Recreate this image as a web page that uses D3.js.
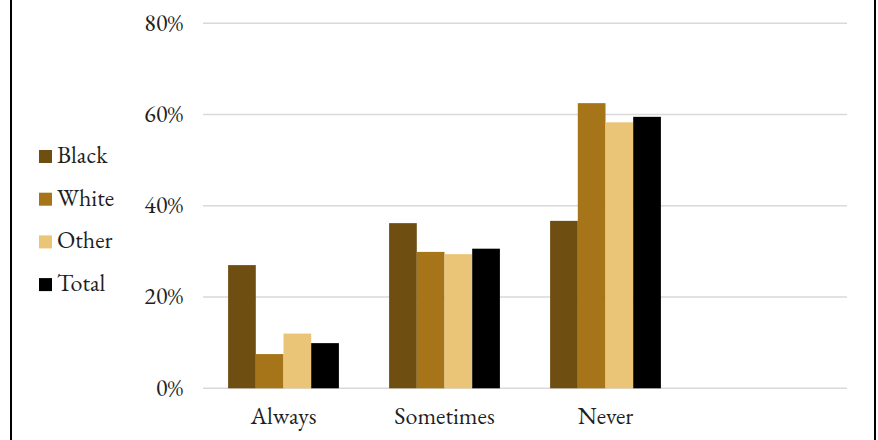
<!DOCTYPE html>
<html><head><meta charset="utf-8">
<script src="https://cdn.jsdelivr.net/npm/d3@7"></script>
<style>body{margin:0;background:#fff}svg{display:block}</style>
</head><body>
<svg id="c" width="878" height="440"></svg>
<script>
const categories = ["Always", "Sometimes", "Never", ""];
const seriesNames = ["Black", "White", "Other", "Total"];
const blackVals = [27.0, 36.2, 36.7];
const whiteVals = [7.5, 29.9, 62.5];
const otherVals = [12.0, 29.4, 58.3];
const totalVals = [9.9, 30.6, 59.5];
const yTicks = [0, 20, 40, 60, 80];
const colors = ["#6F4E12", "#A67519", "#EBC577", "#000000"];
const FONT = "'EB Garamond', 'Liberation Serif', serif";
const FS = 24;

const allVals = [blackVals, whiteVals, otherVals, totalVals];
const svg = d3.select("#c");
const W = 878, H = 440;

// frame
svg.append("line").attr("x1", 11).attr("x2", 11).attr("y1", 0).attr("y2", H).attr("stroke", "#000").attr("stroke-width", 2);
svg.append("line").attr("x1", 875).attr("x2", 875).attr("y1", 0).attr("y2", H).attr("stroke", "#000").attr("stroke-width", 2);

const x = d3.scaleBand().domain(categories).range([203, 847]).paddingInner(0).paddingOuter(0);
const xi = d3.scaleBand().domain(seriesNames).range([0, x.bandwidth()]).paddingInner(0).paddingOuter(0.906);
const y = d3.scaleLinear().domain([0, 80]).range([388.3, 23.3]);

// gridlines
svg.append("g").selectAll("line").data(yTicks).join("line")
  .attr("x1", 203).attr("x2", 847)
  .attr("y1", d => y(d)).attr("y2", d => y(d))
  .attr("stroke", "#D9D9D9").attr("stroke-width", 1.4);

// y labels
svg.append("g").selectAll("text").data(yTicks).join("text")
  .attr("x", 183).attr("y", d => y(d)).attr("dy", "0.3em")
  .attr("text-anchor", "end").attr("font-size", FS).attr("fill", "#1f1f1f")
  .style("font-family", FONT)
  .text(d => d + "%");

// bars
const rows = [];
categories.forEach((c, ci) => {
  seriesNames.forEach((s, si) => {
    const v = allVals[si][ci];
    if (v !== undefined) rows.push({c, s, v, si});
  });
});
svg.append("g").selectAll("rect").data(rows).join("rect")
  .attr("x", d => x(d.c) + xi(d.s))
  .attr("width", xi.bandwidth())
  .attr("y", d => y(d.v))
  .attr("height", d => y(0) - y(d.v))
  .attr("fill", d => colors[d.si]);

// x labels
svg.append("g").selectAll("text").data(categories.filter(c => c)).join("text")
  .attr("x", d => x(d) + x.bandwidth() / 2).attr("y", 424)
  .attr("text-anchor", "middle").attr("font-size", FS).attr("fill", "#1f1f1f")
  .style("font-family", FONT)
  .text(d => d);

// legend
const lg = svg.append("g").selectAll("g").data(seriesNames).join("g")
  .attr("transform", (d, i) => `translate(39, ${150 + i * 42.7})`);
lg.append("rect").attr("width", 13).attr("height", 13).attr("fill", (d, i) => colors[i]);
lg.append("text").attr("x", 18).attr("y", 13).attr("font-size", FS).attr("fill", "#1f1f1f")
  .style("font-family", FONT).text(d => d);
</script>
</body></html>
